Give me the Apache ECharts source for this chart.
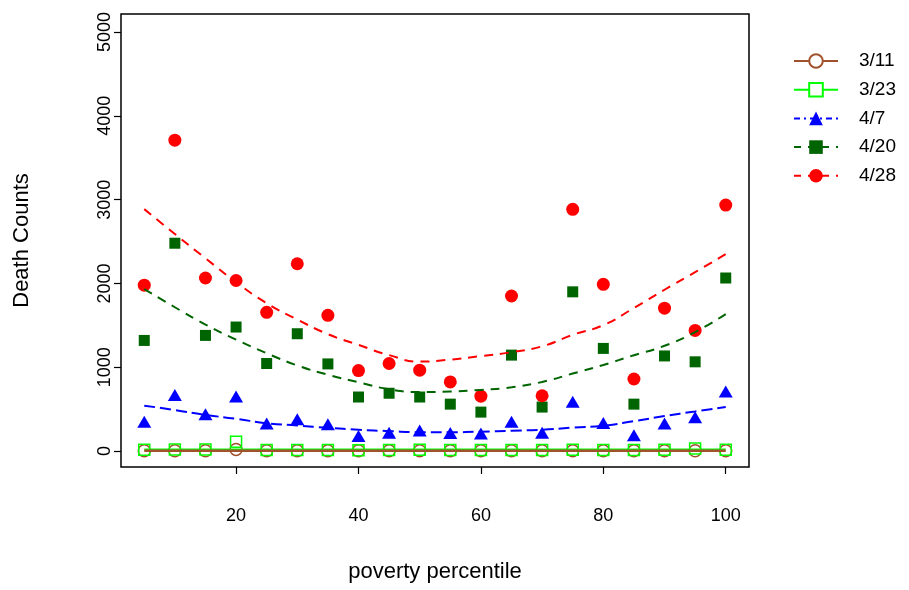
<!DOCTYPE html>
<html>
<head>
<meta charset="utf-8">
<script src="https://cdn.jsdelivr.net/npm/echarts@6/dist/echarts.min.js"></script>
<style>html,body{margin:0;padding:0;background:#fff}#c{width:909px;height:590px}</style>
</head>
<body>
<div id="c"></div>
<script>
// poverty percentile categories
const xVals = [5,10,15,20,25,30,35,40,45,50,55,60,65,70,75,80,85,90,95,100];
// observed death counts
const d0311 = [3,3,3,20,3,3,3,3,3,3,3,3,3,3,3,3,3,3,3,3];
const d0323 = [15,18,18,110,12,12,12,10,12,15,12,12,12,12,15,12,12,15,30,15];
const d0407 = [350,670,440,650,330,380,320,180,220,245,215,210,350,220,590,335,190,330,405,710];
const d0420 = [1320,2480,1380,1480,1045,1400,1040,645,690,645,560,465,1145,525,1900,1225,560,1135,1065,2065];
const d0428 = [1980,3710,2065,2035,1655,2235,1620,960,1045,965,825,655,1850,660,2885,1990,860,1705,1440,2935];
// fitted trend curves
const f0311 = [5,5,5,5,5,5,5,5,5,5,5,5,5,5,5,5,5,5,5,5];
const f0323 = [20,20,20,20,20,20,20,20,20,20,20,20,20,20,20,20,20,20,20,20];
const f0407 = [542,490,432,385,332,305,278,255,238,225,224,232,242,255,280,302,357,418,473,525];
const f0420 = [1933,1716,1510,1330,1167,1022,911,821,738,705,710,730,761,825,925,1027,1144,1256,1420,1635];
const f0428 = [2887,2590,2300,2015,1765,1570,1395,1267,1145,1068,1091,1133,1180,1250,1387,1503,1707,1925,2135,2350];
// tick labels
const xTicks = [20,40,60,80,100];
const yTicks = [0,1000,2000,3000,4000,5000];
const names = ['3/11','3/23','4/7','4/20','4/28'];

const pts = a => xVals.map((x,i)=>[x,a[i]]);
const FONT = 'Liberation Sans';

const cfg = [
  {name:names[0], d:d0311, f:f0311, color:'#A0522D', sym:'emptyCircle', size:12, lt:'solid', lw:2.5, z:5, legLine:'solid', legItem:{color:'#A0522D',borderColor:'#A0522D',borderWidth:1.5}},
  {name:names[1], d:d0323, f:f0323, color:'#00FF00', sym:'emptyRect', size:11, lt:'solid', lw:2, z:4, legLine:'solid', legItem:{color:'#00FF00',borderColor:'#00FF00',borderWidth:1.5}},
  {name:names[2], d:d0407, f:f0407, color:'#0000FF', sym:'triangle', size:[14,12], lt:[11,5], lw:2, z:4, legLine:[6,4,2,4], legItem:{color:'#0000FF',borderWidth:0}},
  {name:names[3], d:d0420, f:f0420, color:'#006400', sym:'rect', size:11, lt:[9,7], lw:2, z:4, legLine:[7,7], legItem:{color:'#006400',borderWidth:0}},
  {name:names[4], d:d0428, f:f0428, color:'#FF0000', sym:'circle', size:13, lt:[9,7], lw:2, z:4, legLine:[7,7], legItem:{color:'#FF0000',borderWidth:0}}
];

const series = [];
cfg.forEach(c=>{
  series.push({
    name:c.name, type:'line', data:pts(c.f), smooth:true, symbol:c.sym, showSymbol:false,
    lineStyle:{color:c.color, width:c.lw, type:c.lt}, itemStyle:{color:c.color},
    z:c.z, silent:true, animation:false
  });
});
cfg.forEach(c=>{
  const empty = c.sym.indexOf('empty')===0;
  series.push({
    name:c.name, type:'scatter', data:pts(c.d), symbol:c.sym.replace('empty','').toLowerCase(), symbolSize:c.size,
    itemStyle: empty ? {color:'rgba(0,0,0,0)', borderColor:c.color, borderWidth:1.5, opacity:1} : {color:c.color, opacity:1},
    z:2, silent:true, animation:false
  });
});

const chart = echarts.init(document.getElementById('c'), null, {renderer:'canvas'});
chart.setOption({
  animation:false,
  backgroundColor:'#fff',
  textStyle:{fontFamily:FONT},
  grid:{left:121, right:160, top:14, bottom:123, show:true, borderColor:'#000', borderWidth:1.5, backgroundColor:'transparent'},
  xAxis:{
    type:'value', min:1.2, max:103.8,
    name:'poverty percentile', nameLocation:'middle', nameGap:94,
    nameTextStyle:{fontFamily:FONT, fontSize:22, color:'#000'},
    axisLine:{show:false, onZero:false},
    axisTick:{show:true, length:7, lineStyle:{color:'#000', width:1.2}, customValues:xTicks},
    axisLabel:{fontFamily:FONT, fontSize:18, color:'#000', margin:40, customValues:xTicks},
    splitLine:{show:false}
  },
  yAxis:{
    type:'value', min:-190, max:5215,
    name:'Death Counts', nameLocation:'middle', nameGap:88, nameRotate:90,
    nameTextStyle:{fontFamily:FONT, fontSize:22, color:'#000'},
    axisLine:{show:false, onZero:false},
    axisTick:{show:true, length:7, lineStyle:{color:'#000', width:1.2}, customValues:yTicks},
    axisLabel:{fontFamily:FONT, fontSize:18, color:'#000', margin:7, rotate:90, customValues:yTicks, formatter: v => String(v)},
    splitLine:{show:false}
  },
  legend:{
    orient:'vertical', left:793, top:51, padding:0,
    itemWidth:44, itemHeight:17, itemGap:8.7,
    textStyle:{fontFamily:FONT, fontSize:19, color:'#000', padding:[0,0,0,16], lineHeight:20},
    data: cfg.map(c=>({name:c.name, itemStyle:c.legItem, lineStyle:{color:c.color, width:2, type:c.legLine}})),
    selectedMode:false
  },
  series: series
});
</script>
</body>
</html>
